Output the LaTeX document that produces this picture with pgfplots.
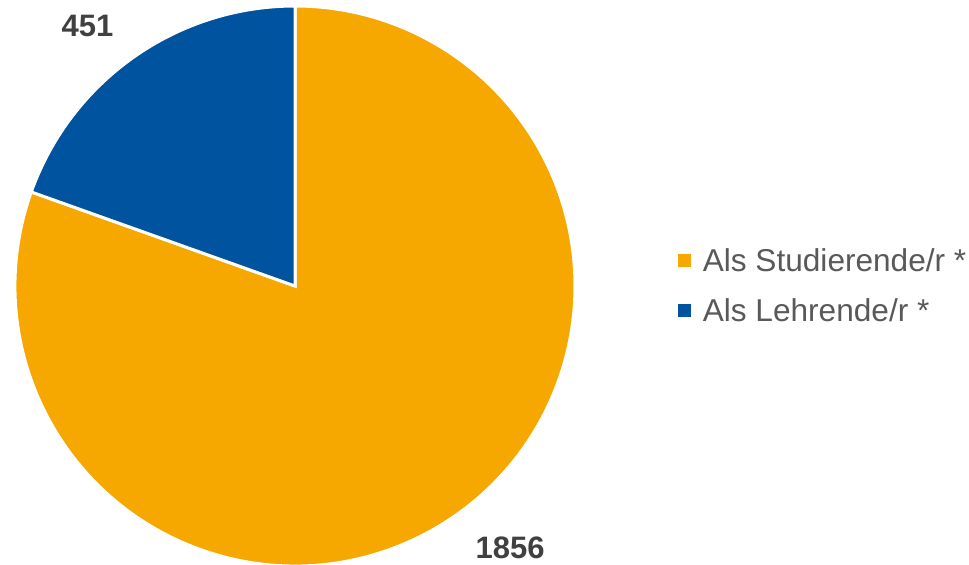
\documentclass[border=0pt]{standalone}
\usepackage{pgfplots}
\usepackage{pgfplotstable}
\pgfplotsset{compat=1.18}
\usepackage{fontspec}
\setmainfont{Liberation Sans}
\definecolor{pieorange}{HTML}{F6A800}
\definecolor{pieblue}{HTML}{00539F}
\definecolor{legtext}{HTML}{595959}
\definecolor{labtext}{HTML}{404040}
\pgfplotstableread{
value
1856
451
}\piedata
\begin{document}
\begin{tikzpicture}
\useasboundingbox (0,0) rectangle (484.5pt,282pt);
\pgfplotstablegetelem{0}{value}\of\piedata \let\vA\pgfplotsretval
\pgfplotstablegetelem{1}{value}\of\piedata \let\vB\pgfplotsretval
\pgfmathsetmacro\fracB{\vB/(\vA+\vB)}
\pgfmathsetmacro\angB{90+360*\fracB}
\begin{axis}[
  x=140pt, y=140pt,
  xmin=-1, xmax=1, ymin=-1, ymax=1,
  hide axis, clip=false,
  at={(147.5pt,139pt)}, anchor=origin,
  legend style={draw=none, fill=none, inner sep=0pt, outer sep=0pt,
    at={(1.184,0.496)}, anchor=west,
    font=\fontsize{15.8}{18}\selectfont, text=legtext,
    nodes={inner sep=0pt, text height=11pt, text depth=3pt},
    column sep=6pt, row sep=11pt},
  legend cell align=left,
]
\fill[pieorange, draw=white, line width=1.5pt] (axis cs:0,0) -- (axis cs:{cos(\angB)},{sin(\angB)})
  arc[start angle=\angB, end angle=450, radius=140pt] -- cycle;
\fill[pieblue, draw=white, line width=1.5pt] (axis cs:0,0) -- (axis cs:0,1)
  arc[start angle=90, end angle=\angB, radius=140pt] -- cycle;
\addlegendimage{legend image code/.code={\fill[pieorange] (0pt,-1.5pt) rectangle (6pt,4.5pt);}}
\addlegendentry{Als Studierende/r *}
\addlegendimage{legend image code/.code={\fill[pieblue] (0pt,-1.5pt) rectangle (6pt,4.5pt);}}
\addlegendentry{Als Lehrende/r *}
\addplot[draw=none, mark=none, forget plot, nodes near coords, point meta=explicit symbolic,
  every node near coord/.append style={anchor=center, font=\fontsize{15.5}{18}\selectfont\bfseries, text=labtext}]
  coordinates {(-0.741,0.929) [451] (0.768,-0.936) [1856]};
\end{axis}
\end{tikzpicture}
\end{document}
